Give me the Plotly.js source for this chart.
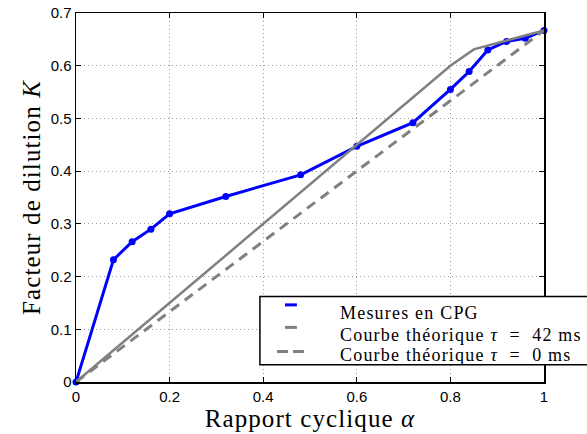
<!DOCTYPE html>
<html>
<head>
<meta charset="utf-8">
<script src="https://cdn.plot.ly/plotly-3.0.1.min.js"></script>
<style>
  html, body { margin: 0; padding: 0; background: #fff; }
  #chart { width: 587px; height: 434px; }
  /* the serif labels are set a little looser (global so text measuring sees it too) */
  .annotation-text { letter-spacing: 1.2px; }
  .xtitle, .ytitle { letter-spacing: 1.1px; }
</style>
</head>
<body>
<div id="chart"></div>
<script>
// Measured dilution factor K versus duty cycle alpha (CPG)
const alphaMes = [0, 0.08, 0.12, 0.16, 0.20, 0.32, 0.48, 0.60, 0.72, 0.80, 0.84, 0.88, 0.92, 0.96, 1.00];
const kMes     = [0, 0.232, 0.266, 0.290, 0.319, 0.352, 0.393, 0.447, 0.492, 0.555, 0.589, 0.630, 0.646, 0.652, 0.667];

// Theoretical curve, tau = 42 ms
const alphaT42 = [0, 0.80, 0.85, 1.00];
const kT42     = [0, 0.600, 0.631, 0.667];

// Theoretical curve, tau = 0 ms
const alphaT0 = [0, 1.00];
const kT0     = [0, 0.667];

const seriesNames = [
  'Mesures en CPG',
  'Courbe théorique <i>τ</i>  =  42 ms',
  'Courbe théorique <i>τ</i>  =  0 ms'
];

const xTicks = [0, 0.2, 0.4, 0.6, 0.8, 1];
const xTickText = ['0', '0.2', '0.4', '0.6', '0.8', '1'];
const yTicks = [0, 0.1, 0.2, 0.3, 0.4, 0.5, 0.6, 0.7];
const yTickText = ['0', '0.1', '0.2', '0.3', '0.4', '0.5', '0.6', '0.7'];

const BLUE = '#0000ff';
const GRAY = '#808080';
const SERIF = 'Liberation Serif';
const SANS = 'Liberation Sans';

const traces = [
  {
    x: alphaMes, y: kMes, name: seriesNames[0],
    type: 'scatter', mode: 'lines+markers',
    line: { color: BLUE, width: 3 },
    marker: { color: BLUE, size: 7 },
    cliponaxis: false
  },
  {
    x: alphaT42, y: kT42, name: seriesNames[1],
    type: 'scatter', mode: 'lines',
    line: { color: GRAY, width: 2.5 }
  },
  {
    x: alphaT0, y: kT0, name: seriesNames[2],
    type: 'scatter', mode: 'lines',
    line: { color: GRAY, width: 3, dash: '10px,7px' }
  }
];

const axisCommon = {
  showline: true, linecolor: '#000', linewidth: 1.5,
  mirror: 'ticks', ticks: 'inside', ticklen: 5, tickwidth: 1, tickcolor: '#000',
  showgrid: true, gridcolor: '#9a9a9a', gridwidth: 1, griddash: '1px,3px',
  zeroline: false, fixedrange: true,
  tickfont: { family: SANS, size: 15, color: '#000' }
};

// Hand-built legend box (line samples + labels), sitting in the lower right
const legX0 = 0.393, legX1 = 1.13, legY0 = 0.047, legY1 = 0.232;
const rowY = [0.188, 0.127, 0.0736];
const sampleY = [0.209, 0.148, 0.0828];
const textX = 0.56;

const shapes = [
  { type: 'rect', xref: 'paper', yref: 'paper', x0: legX0, x1: legX1, y0: legY0, y1: legY1,
    line: { color: '#000', width: 1.5 }, fillcolor: '#fff', layer: 'above' },
  { type: 'line', xref: 'paper', yref: 'paper', x0: 0.4466, x1: 0.472, y0: sampleY[0], y1: sampleY[0],
    line: { color: BLUE, width: 3 }, layer: 'above' },
  { type: 'line', xref: 'paper', yref: 'paper', x0: 0.4466, x1: 0.472, y0: sampleY[1], y1: sampleY[1],
    line: { color: GRAY, width: 3 }, layer: 'above' },
  { type: 'line', xref: 'paper', yref: 'paper', x0: 0.4295, x1: 0.487, y0: sampleY[2], y1: sampleY[2],
    line: { color: GRAY, width: 3, dash: '11px,5px' }, layer: 'above' }
];

const annotations = seriesNames.map((n, i) => ({
  xref: 'paper', yref: 'paper', x: textX, y: rowY[i],
  xanchor: 'left', yanchor: 'middle', showarrow: false,
  text: n, font: { family: SERIF, size: 18, color: '#000' }
}));

const layout = {
  width: 587, height: 434,
  margin: { l: 76, r: 43, t: 13, b: 52, pad: 0 },
  paper_bgcolor: '#fff', plot_bgcolor: '#fff',
  showlegend: false,
  xaxis: Object.assign({}, axisCommon, {
    range: [0, 1], tickvals: xTicks, ticktext: xTickText,
    title: { text: 'Rapport cyclique <i>α</i>', font: { family: SERIF, size: 25, color: '#000' }, standoff: 4 }
  }),
  yaxis: Object.assign({}, axisCommon, {
    range: [0, 0.7], tickvals: yTicks, ticktext: yTickText,
    title: { text: 'Facteur de dilution <i>K</i>', font: { family: SERIF, size: 25, color: '#000' }, standoff: 3 }
  }),
  shapes: shapes,
  annotations: annotations
};

Plotly.newPlot('chart', traces, layout, { displayModeBar: false, staticPlot: true });
</script>
</body>
</html>
